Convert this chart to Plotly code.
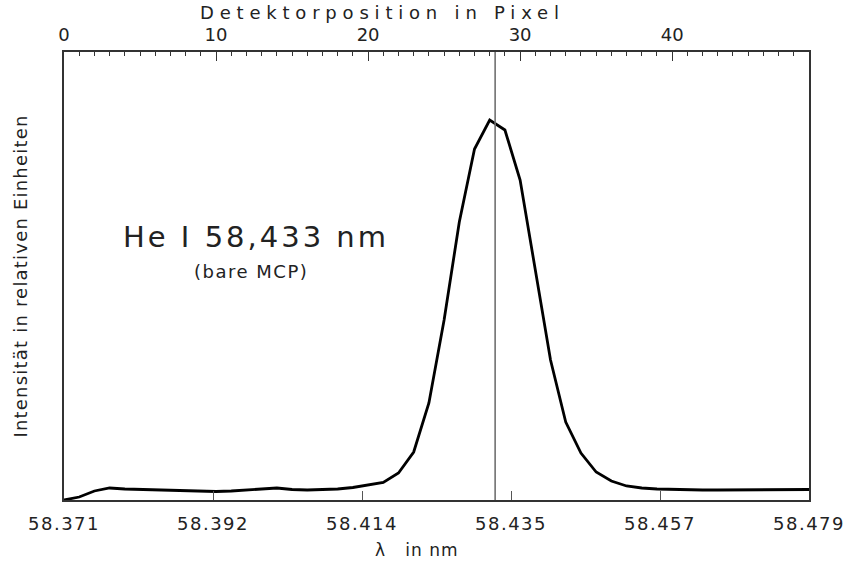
import plotly.graph_objects as go

# Detector pixel positions and intensities (relative units)
pixels = list(range(50))
intensity = [0, 3, 9, 12, 11, 10.5, 10, 9.5, 9, 9,
             8.5, 9, 10, 11.5, 12, 10.5, 10, 10.5, 11, 12.5,
             15, 17.5, 27, 48, 97, 180, 278, 351, 380, 370,
             320, 232, 140, 78, 47, 28, 19, 14, 12, 11,
             10.5, 10, 10, 10, 10, 10, 10.5, 10.5, 10.5, 10.5]

wl_range = [58.3705, 58.4785]
wl_ticktext = ["58.371", "58.392", "58.414", "58.435", "58.457", "58.479"]
pixel_ticks = [0, 10, 20, 30, 40]
line_wl = 58.433

FONT = "DejaVu Sans"
n = len(wl_ticktext)
wl_tickvals = [wl_range[0] + i * (wl_range[1] - wl_range[0]) / (n - 1) for i in range(n)]


def spaced(t, px):
    return f'<span style="letter-spacing:{px}px">{t}</span>'


fig = go.Figure()
fig.add_trace(go.Scatter(x=pixels, y=intensity, mode="lines", xaxis="x2", yaxis="y",
                         line=dict(color="black", width=2.8), showlegend=False))
# invisible trace to anchor the wavelength axis
fig.add_trace(go.Scatter(x=wl_range, y=[None, None], mode="lines", xaxis="x", yaxis="y",
                         showlegend=False, hoverinfo="skip"))

fig.add_shape(type="line", xref="x", yref="paper", x0=line_wl, x1=line_wl, y0=0, y1=1,
              line=dict(color="#707070", width=1.6))

fig.update_layout(
    width=848, height=565,
    margin=dict(l=64, r=39, t=52, b=65),
    paper_bgcolor="white", plot_bgcolor="white",
    font=dict(family=FONT, size=17, color="#222"),
    xaxis=dict(range=wl_range, tickvals=wl_tickvals, ticktext=[spaced(t, 1.5) for t in wl_ticktext],
               ticks="inside", ticklen=9, tickcolor="#555", tickwidth=1.2, ticklabelstandoff=6,
               showline=True, linecolor="#333", linewidth=2, showgrid=False, zeroline=False,
               automargin=False,
               tickfont=dict(family=FONT, size=18, color="#222")),
    xaxis2=dict(range=[0, 49], overlaying="x", side="top", anchor="y",
                tickvals=pixel_ticks, ticks="inside", ticklen=9, tickcolor="#333", tickwidth=1.2,
                minor=dict(dtick=1, ticks="inside", ticklen=4, tickcolor="#333", tickwidth=1),
                showline=True, linecolor="#333", linewidth=1.5, showgrid=False, zeroline=False,
                automargin=False, ticklabelstandoff=2,
                tickfont=dict(family=FONT, size=18, color="#222")),
    yaxis=dict(range=[0, 448], showticklabels=False, ticks="", showgrid=False, zeroline=False,
               showline=True, mirror=True, linecolor="#333", linewidth=1.5, automargin=False,
               title=dict(text=spaced("Intensität in relativen Einheiten", 1.2), standoff=30,
                          font=dict(family=FONT, size=18))),
)

# axis titles (offset like the original)
fig.add_annotation(text=spaced("Detektorposition in Pixel", 5.8), xref="paper", yref="paper",
                   x=0.427, y=1.089, xanchor="center", yanchor="middle", showarrow=False,
                   font=dict(family=FONT, size=18, color="#222"))
fig.add_annotation(text=spaced("λ&nbsp;&nbsp;&nbsp;in nm", 1), xref="paper", yref="paper",
                   x=0.474, y=-0.112, xanchor="center", yanchor="middle", showarrow=False,
                   font=dict(family=FONT, size=17, color="#222"))

fig.add_annotation(text=spaced("He I 58,433 nm", 3), xref="paper", yref="paper", x=0.258, y=0.587,
                   xanchor="center", yanchor="middle",
                   showarrow=False, font=dict(family=FONT, size=29, color="#222"))
fig.add_annotation(text=spaced("(bare MCP)", 1.5), xref="paper", yref="paper", x=0.251, y=0.509,
                   xanchor="center", yanchor="middle",
                   showarrow=False, font=dict(family=FONT, size=18, color="#222"))

fig.write_html("out.html")
